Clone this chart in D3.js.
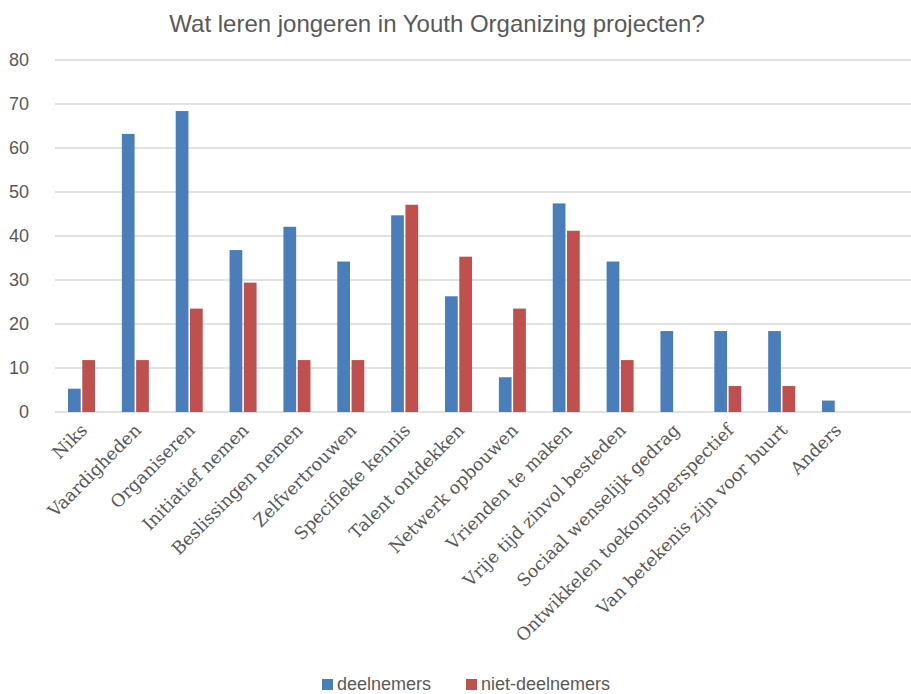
<!DOCTYPE html>
<html>
<head>
<meta charset="utf-8">
<script src="https://cdn.jsdelivr.net/npm/d3@7"></script>
<style>
  body { margin: 0; background: #fff; }
  svg { display: block; }
</style>
</head>
<body>
<div id="chart"></div>
<script>
const categories = ["Niks", "Vaardigheden", "Organiseren", "Initiatief nemen", "Beslissingen nemen",
  "Zelfvertrouwen", "Specifieke kennis", "Talent ontdekken", "Netwerk opbouwen", "Vrienden te maken",
  "Vrije tijd zinvol besteden", "Sociaal wenselijk gedrag", "Ontwikkelen toekomstperspectief",
  "Van betekenis zijn voor buurt", "Anders"];
const deelnemers = [5.3, 63.2, 68.4, 36.8, 42.1, 34.2, 44.7, 26.3, 7.9, 47.4, 34.2, 18.4, 18.4, 18.4, 2.6];
const nietDeelnemers = [11.8, 11.8, 23.5, 29.4, 11.8, 11.8, 47.1, 35.3, 23.5, 41.2, 11.8, 0, 5.9, 5.9, 0];
const yTicks = [0, 10, 20, 30, 40, 50, 60, 70, 80];
const seriesNames = ["deelnemers", "niet-deelnemers"];
const colors = ["#4a7ebb", "#c0504d"];

const width = 911, height = 694;
const plotLeft = 55, plotTop = 60, plotBottom = 412;
const step = 53.86;
const sans = "'Liberation Sans', Arial, sans-serif";

const svg = d3.select("#chart").append("svg")
  .attr("width", width).attr("height", height);

svg.append("text")
  .attr("x", 437).attr("y", 32)
  .attr("text-anchor", "middle")
  .style("font-family", sans)
  .style("font-size", "24px")
  .style("fill", "#595959")
  .text("Wat leren jongeren in Youth Organizing projecten?");

let y = d3.scaleLinear().domain([0, 80]).range([plotBottom, plotTop]);
let x = d3.scaleBand().domain(categories).range([plotLeft, plotLeft + step * categories.length]);
let xs = d3.scaleBand().domain(seriesNames).range([13, 13 + 27]).paddingInner(0.11);

// gridlines
svg.append("g").selectAll("line").data(yTicks).enter().append("line")
  .attr("x1", plotLeft).attr("x2", width)
  .attr("y1", d => y(d)).attr("y2", d => y(d))
  .style("stroke", "#d9d9d9").style("stroke-width", 1.5);

// y axis labels
let yAxis = svg.append("g")
  .attr("transform", `translate(29,0)`)
  .call(d3.axisLeft(y).tickValues(yTicks).tickSize(0).tickPadding(0));
yAxis.select(".domain").remove();
yAxis.selectAll("text")
  .style("font-family", sans)
  .style("font-size", "18px")
  .style("fill", "#595959");

// bars
const rows = categories.map((c, i) => ({ cat: c, vals: [deelnemers[i], nietDeelnemers[i]] }));
const groups = svg.append("g").selectAll("g").data(rows).enter().append("g")
  .attr("transform", d => `translate(${x(d.cat)},0)`);
groups.selectAll("rect")
  .data(d => d.vals.map((v, k) => ({ v: v, s: seriesNames[k], k: k })).filter(e => e.v > 0))
  .enter().append("rect")
  .attr("x", d => xs(d.s))
  .attr("width", xs.bandwidth())
  .attr("y", d => y(d.v))
  .attr("height", d => plotBottom - y(d.v))
  .style("fill", d => colors[d.k]);

// x labels
svg.append("g").selectAll("text").data(categories).enter().append("text")
  .attr("transform", d => `translate(${x(d) + x.bandwidth() / 2 + 2},${plotBottom + 15}) rotate(-45)`)
  .attr("text-anchor", "end")
  .attr("dy", "0.35em")
  .style("font-family", "'DejaVu Serif', serif")
  .style("font-size", "17.5px")
  .style("fill", "#595959")
  .text(d => d);

// legend
const legend = svg.append("g").selectAll("g").data(seriesNames).enter().append("g")
  .attr("transform", (d, i) => `translate(${i === 0 ? 322 : 466},679)`);
legend.append("rect").attr("width", 11).attr("height", 11)
  .style("fill", (d, i) => colors[i]);
legend.append("text").attr("x", 15).attr("y", 11)
  .style("font-family", sans)
  .style("font-size", "18px")
  .style("fill", "#595959")
  .text(d => d);
</script>
</body>
</html>
